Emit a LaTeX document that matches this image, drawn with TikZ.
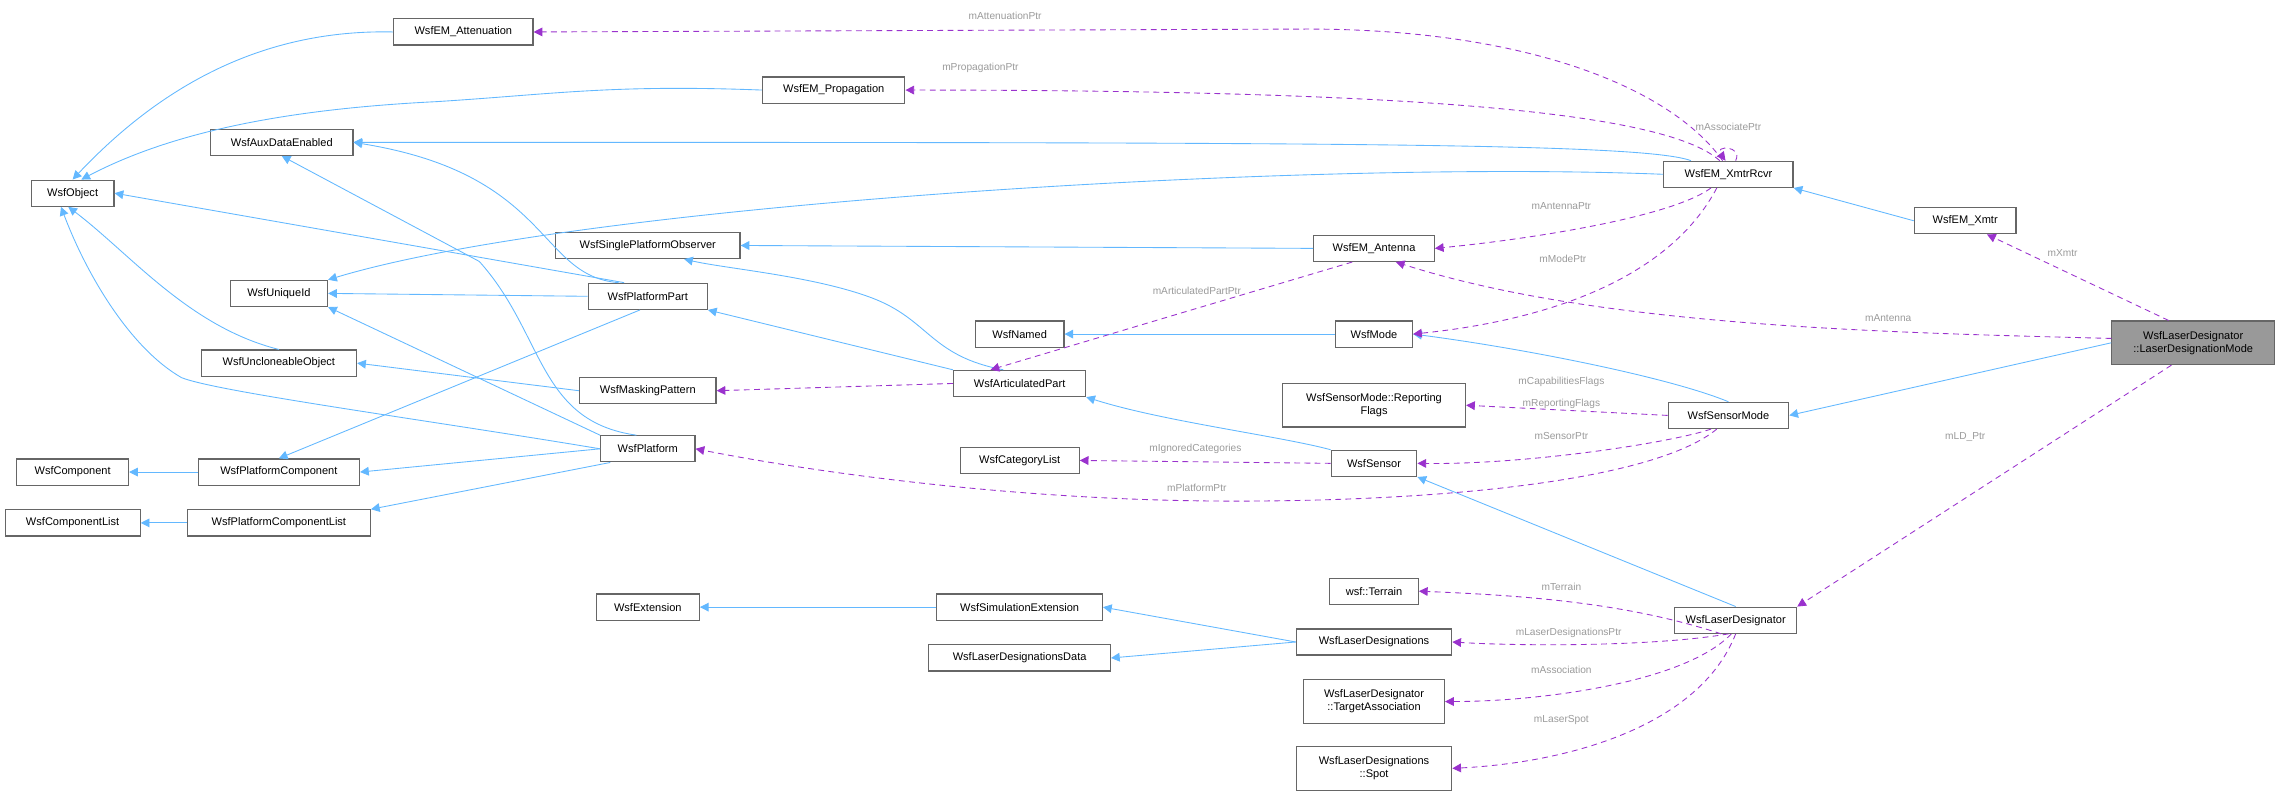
\documentclass[tikz,border=0pt]{standalone}
\usepackage{fontspec}
\setmainfont{Liberation Sans}
\usetikzlibrary{arrows.meta}
\definecolor{inh}{HTML}{63B8FF}
\definecolor{use}{HTML}{9A32CD}
\definecolor{lbl}{HTML}{9A9A9A}
\begin{document}
\begin{tikzpicture}[x=1pt,y=-1pt,
  box/.style={draw=black!60,line width=0.8pt,fill=white,inner sep=0pt,minimum height=18pt,font=\fontsize{7.6}{9}\selectfont,align=center},
  box2/.style={box,minimum height=30pt},
  inh/.style={draw=inh,line width=0.6pt,-{Triangle[length=6pt,width=6pt]}},
  use/.style={draw=use,line width=0.6pt,dash pattern=on 4pt off 3pt,-{Triangle[length=6pt,width=6pt]},color=use},
  lab/.style={text=lbl,font=\fontsize{7}{8}\selectfont,inner sep=1pt}]
\useasboundingbox (0,0) rectangle (1567,547);
% nodes
\node[box,minimum width=96pt] (att) at (319,22) {WsfEM\_Attenuation};
\node[box,minimum width=98pt] (prop) at (574,62) {WsfEM\_Propagation};
\node[box,minimum width=98pt] (aux) at (194,98) {WsfAuxDataEnabled};
\node[box,minimum width=57pt] (obj) at (50,133) {WsfObject};
\node[box,minimum width=67pt] (uid) at (192,202) {WsfUniqueId};
\node[box,minimum width=107pt] (unc) at (192,250) {WsfUncloneableObject};
\node[box,minimum width=127pt] (spo) at (446,169) {WsfSinglePlatformObserver};
\node[box,minimum width=82pt] (pp) at (446,204) {WsfPlatformPart};
\node[box,minimum width=94pt] (mask) at (446,269) {WsfMaskingPattern};
\node[box,minimum width=65pt] (plat) at (446,309) {WsfPlatform};
\node[box,minimum width=77pt] (comp) at (50,325) {WsfComponent};
\node[box,minimum width=111pt] (pc) at (192,325) {WsfPlatformComponent};
\node[box,minimum width=93pt] (compl) at (50,360) {WsfComponentList};
\node[box,minimum width=126pt] (pcl) at (192,360) {WsfPlatformComponentList};
\node[box,minimum width=71pt] (ext) at (446,418) {WsfExtension};
\node[box,minimum width=83pt] (ant) at (946,171) {WsfEM\_Antenna};
\node[box,minimum width=61pt] (named) at (702,230) {WsfNamed};
\node[box,minimum width=53pt] (mode) at (946,230) {WsfMode};
\node[box,minimum width=91pt] (ap) at (702,264) {WsfArticulatedPart};
\node[box2,minimum width=126pt] (rf) at (946,279) {WsfSensorMode::Reporting\\Flags};
\node[box,minimum width=82pt] (cat) at (702,317) {WsfCategoryList};
\node[box,minimum width=59pt] (sen) at (946,319) {WsfSensor};
\node[box,minimum width=61pt] (ter) at (946,407) {wsf::Terrain};
\node[box,minimum width=114pt] (se) at (702,418) {WsfSimulationExtension};
\node[box,minimum width=107pt] (lds) at (946,442) {WsfLaserDesignations};
\node[box,minimum width=125pt] (ldd) at (702,453) {WsfLaserDesignationsData};
\node[box2,minimum width=97pt] (ta) at (946,483) {WsfLaserDesignator\\::TargetAssociation};
\node[box2,minimum width=107pt] (spot) at (946,529) {WsfLaserDesignations\\::Spot};
\node[box,minimum width=84pt] (ld) at (1195,427) {WsfLaserDesignator};
\node[box,minimum width=89pt] (xr) at (1190,120) {WsfEM\_XmtrRcvr};
\node[box,minimum width=70pt] (xm) at (1353,152) {WsfEM\_Xmtr};
\node[box,minimum width=83pt] (sm) at (1190,286) {WsfSensorMode};
\node[box2,minimum width=112pt,fill=black!40] (ldm) at (1510,236) {WsfLaserDesignator\\::LaserDesignationMode};
% inheritance
\draw[inh] (att.west) .. controls (180,20) and (110,60) .. (obj.north);
\draw[inh] (prop.west) .. controls (420,58) and (380,65) .. (300,70) .. controls (200,75) and (120,90) .. ([xshift=6pt]obj.north);
\draw[inh] (xr.160) .. controls (1130,98) and (900,98) .. (aux.east);
\draw[inh] (xr.west) .. controls (900,110) and (400,140) .. (uid.north east);
\draw[inh] (xm.west) -- (xr.south east);
\draw[inh] (ant.west) -- (spo.east);
\draw[inh] (pp.150) -- (obj.east);
\draw[inh] (pp.west) -- (uid.east);
\draw[inh] (pp.155) .. controls (370,190) and (380,120) .. (aux.east);
\draw[inh] (pp.-120) -- (pc.north);
\draw[inh] (unc.north) .. controls (130,225) and (90,175) .. ([xshift=-3pt]obj.south);
\draw[inh] (mask.west) -- (unc.east);
\draw[inh] (plat.west) .. controls (300,290) and (150,270) .. (125,260) .. controls (90,240) and (60,190) .. ([xshift=-8pt]obj.south);
\draw[inh] (plat.north west) -- (uid.south east);
\draw[inh] (plat.130) .. controls (370,290) and (375,230) .. (330,180) -- (aux.south);
\draw[inh] (plat.west) -- (pc.east);
\draw[inh] (plat.-160) -- (pcl.north east);
\draw[inh] (ap.north west) -- (pp.south east);
\draw[inh] (ap.140) .. controls (640,245) and (640,220) .. (600,205) .. controls (560,190) and (500,185) .. ([xshift=25pt]spo.south);
\draw[inh] (mode.west) -- (named.east);
\draw[inh] (sm.north) .. controls (1150,260) and (1050,240) .. (mode.east);
\draw[inh] (ldm.west) -- (sm.east);
\draw[inh] (sen.north west) .. controls (880,300) and (800,290) .. (ap.south east);
\draw[inh] (ld.north) -- (sen.south east);
\draw[inh] (se.west) -- (ext.east);
\draw[inh] (lds.west) -- (se.east);
\draw[inh] (lds.west) -- (ldd.east);
\draw[inh] (pc.west) -- (comp.east);
\draw[inh] (pcl.west) -- (compl.east);
% usage
\draw[use] ([xshift=-4pt]xr.north) .. controls (1150,60) and (1050,20) .. (900,20) -- (att.east);
\node[lab] at (692,11) {mAttenuationPtr};
\draw[use] ([xshift=-6pt]xr.north) .. controls (1150,80) and (1000,62) .. (prop.east);
\node[lab] at (675,47) {mPropagationPtr};
\draw[use] ([xshift=5pt]xr.north) .. controls (1200,100) and (1180,100) .. ([xshift=-2pt]xr.north);
\node[lab] at (1190,87) {mAssociatePtr};
\draw[use] ([xshift=-12pt]xr.south) .. controls (1150,150) and (1050,165) .. (ant.east);
\node[lab] at (1075,142) {mAntennaPtr};
\draw[use] ([xshift=-8pt]xr.south) .. controls (1150,190) and (1070,220) .. (mode.east);
\node[lab] at (1076,178) {mModePtr};
\draw[use] ([xshift=-15pt]ant.south) -- ([xshift=-20pt]ap.north);
\node[lab] at (824,200) {mArticulatedPartPtr};
\draw[use] ([yshift=3pt]ldm.west) .. controls (1300,229) and (1100,225) .. ([xshift=15pt]ant.south);
\node[lab] at (1300,219) {mAntenna};
\draw[use] ([xshift=-17pt]ldm.north) -- ([xshift=15pt]xm.south);
\node[lab] at (1420,174) {mXmtr};
\draw[use] ([xshift=-15pt]ldm.south) -- (ld.north east);
\node[lab] at (1353,301) {mLD\_Ptr};
\draw[use] (ap.west) -- (mask.east);
\draw[use] (sm.west) -- (rf.east);
\node[lab] at (1075,263) {mCapabilitiesFlags};
\node[lab] at (1075,278) {mReportingFlags};
\draw[use] ([xshift=-12pt]sm.south) .. controls (1150,305) and (1050,320) .. (sen.east);
\node[lab] at (1075,300) {mSensorPtr};
\draw[use] ([xshift=-8pt]sm.south) .. controls (1140,330) and (1000,345) .. (850,345) .. controls (700,345) and (560,325) .. (plat.east);
\node[lab] at (824,336) {mPlatformPtr};
\draw[use] (sen.west) -- (cat.east);
\node[lab] at (823,309) {mIgnoredCategories};
\draw[use] ([xshift=-10pt]ld.south) .. controls (1120,415) and (1050,410) .. (ter.east);
\node[lab] at (1075,404) {mTerrain};
\draw[use] ([xshift=-5pt]ld.south) .. controls (1140,445) and (1050,445) .. (lds.east);
\node[lab] at (1080,436) {mLaserDesignationsPtr};
\draw[use] ([xshift=-3pt]ld.south) .. controls (1160,470) and (1060,483) .. (ta.east);
\node[lab] at (1075,461) {mAssociation};
\draw[use] (ld.south) .. controls (1170,500) and (1080,525) .. (spot.east);
\node[lab] at (1075,496) {mLaserSpot};
\end{tikzpicture}
\end{document}
